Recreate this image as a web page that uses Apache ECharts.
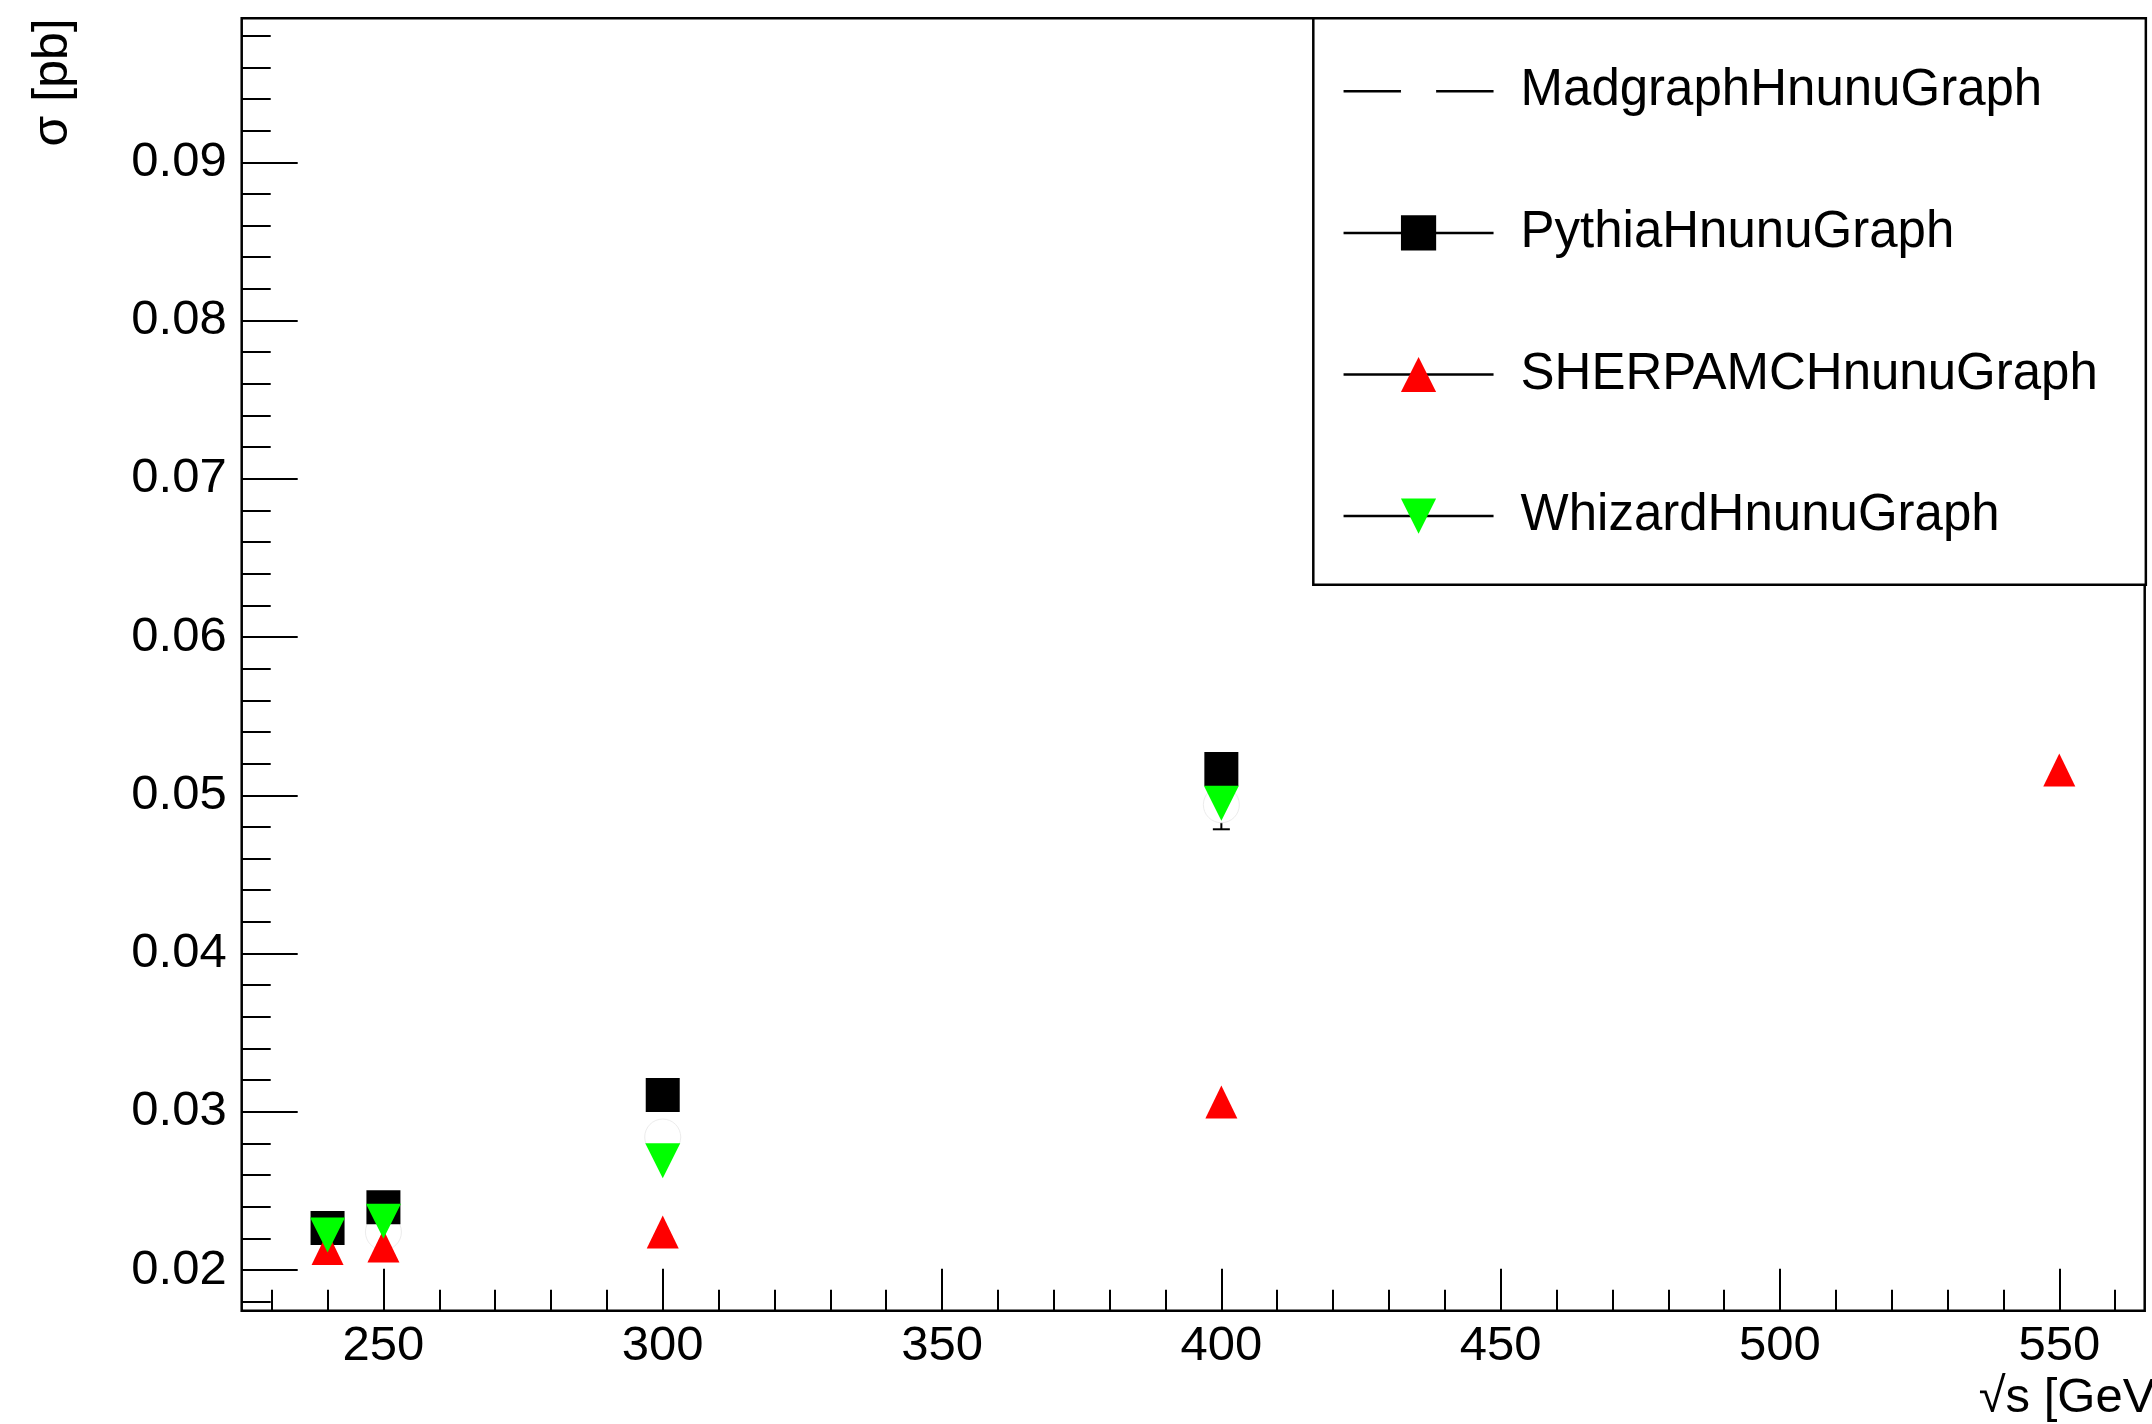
<!DOCTYPE html>
<html>
<head>
<meta charset="utf-8">
<script src="https://cdn.jsdelivr.net/npm/echarts@6/dist/echarts.min.js"></script>
<style>
html,body{margin:0;padding:0;background:#fff;}
#c{width:2152px;height:1424px;}
</style>
</head>
<body>
<div id="c"></div>
<script>
// ---- data ----
const seriesNames = ['MadgraphHnunuGraph', 'PythiaHnunuGraph', 'SHERPAMCHnunuGraph', 'WhizardHnunuGraph'];

const madgraphX = [250, 300, 400];
const madgraphY = [0.0224, 0.0284, 0.0494];

const pythiaX = [240, 250, 300, 400];
const pythiaY = [0.02265, 0.02396, 0.03106, 0.05166];
const pythiaErr = [0.0009, 0.0009, 0.0010, 0.0010];

const sherpaX = [240, 250, 300, 400, 550];
const sherpaY = [0.02135, 0.02152, 0.0224, 0.03062, 0.0516];
const sherpaErr = [0.0009, 0.0009, 0.0010, 0.0010, 0.0010];

const whizardX = [240, 250, 300, 400];
const whizardY = [0.02221, 0.02308, 0.0269, 0.04949];
const whizardErr = [0.0009, 0.0009, 0.0010, 0.00164];

const xMajorTicks = [250, 300, 350, 400, 450, 500, 550];
const xMinorTicks = [230, 240, 260, 270, 280, 290, 310, 320, 330, 340, 360, 370, 380, 390,
  410, 420, 430, 440, 460, 470, 480, 490, 510, 520, 530, 540, 560];
const yMajorTicks = [0.02, 0.03, 0.04, 0.05, 0.06, 0.07, 0.08, 0.09];
const yMinorTicks = [0.018, 0.022, 0.024, 0.026, 0.028, 0.032, 0.034, 0.036, 0.038,
  0.042, 0.044, 0.046, 0.048, 0.052, 0.054, 0.056, 0.058, 0.062, 0.064, 0.066, 0.068,
  0.072, 0.074, 0.076, 0.078, 0.082, 0.084, 0.086, 0.088, 0.092, 0.094, 0.096, 0.098];

const xTitle = '\u221As [GeV]';
const yTitle = '\u03C3 [pb]';

// ---- helpers ----
const FONT = '"Liberation Sans", Arial, Helvetica, sans-serif';
function pairs(xs, ys) { return xs.map((x, i) => [x, ys[i]]); }
function triples(xs, ys, es) { return xs.map((x, i) => [x, ys[i], es[i]]); }

function errRender(half) {
  return function (params, api) {
    const x = api.value(0), y = api.value(1), e = api.value(2);
    const c = api.coord([x, y]);
    const top = api.coord([x, y + e])[1];
    const bot = api.coord([x, y - e])[1];
    const cap = 8.5;
    const children = [];
    const st = () => ({ stroke: '#000', lineWidth: 2 });
    if (c[1] - top > half) {
      children.push({ type: 'line', shape: { x1: c[0], y1: c[1] - half, x2: c[0], y2: top }, style: st() });
      children.push({ type: 'line', shape: { x1: c[0] - cap, y1: top, x2: c[0] + cap, y2: top }, style: st() });
    }
    if (bot - c[1] > half) {
      children.push({ type: 'line', shape: { x1: c[0], y1: c[1] + half, x2: c[0], y2: bot }, style: st() });
      children.push({ type: 'line', shape: { x1: c[0] - cap, y1: bot, x2: c[0] + cap, y2: bot }, style: st() });
    }
    return { type: 'group', children: children };
  };
}

const DOWN_TRI = 'path://M0,0L2,0L1,2Z';

function markerSeries(name, xs, ys, color, symbol, size, extraItem) {
  return {
    name: name,
    type: 'line',
    xAxisIndex: 0, yAxisIndex: 0,
    data: pairs(xs, ys),
    color: color,
    symbol: symbol,
    symbolSize: size,
    showSymbol: true,
    lineStyle: { color: color, opacity: 0, width: 0 },
    itemStyle: Object.assign({ color: color, borderWidth: 0 }, extraItem || {}),
    silent: true,
    animation: false,
    emphasis: { disabled: true }
  };
}

function errSeries(xs, ys, es, half) {
  return {
    type: 'custom',
    xAxisIndex: 0, yAxisIndex: 0,
    data: triples(xs, ys, es),
    encode: { x: 0, y: 1 },
    renderItem: errRender(half),
    silent: true,
    animation: false
  };
}

const XMIN = 224.63, XMAX = 565.29;
const YMIN = 0.017427, YMAX = 0.0991;

const tickStyle = { color: '#000', width: 2 };

const option = {
  backgroundColor: '#fff',
  animation: false,
  textStyle: { fontFamily: FONT },
  grid: {
    left: 241.7, right: 7.3, top: 18.3, bottom: 113.3,
    show: true, borderColor: '#000', borderWidth: 2.5, backgroundColor: 'transparent',
    containLabel: false, outerBoundsMode: 'none'
  },
  xAxis: [
    {
      type: 'value', min: XMIN, max: XMAX, position: 'bottom', offset: 0,
      axisLine: { show: false },
      splitLine: { show: false },
      axisTick: { show: true, inside: true, length: 42, lineStyle: tickStyle, customValues: xMajorTicks },
      axisLabel: { show: true, customValues: xMajorTicks, margin: 11, fontSize: 49, fontFamily: FONT, color: '#000' }
    },
    {
      type: 'value', min: XMIN, max: XMAX, position: 'bottom', offset: 0,
      axisLine: { show: false },
      splitLine: { show: false },
      axisTick: { show: true, inside: true, length: 21, lineStyle: tickStyle, customValues: xMinorTicks },
      axisLabel: { show: false }
    }
  ],
  yAxis: [
    {
      type: 'value', min: YMIN, max: YMAX, position: 'left', offset: 0,
      axisLine: { show: false },
      splitLine: { show: false },
      axisTick: { show: true, inside: true, length: 56, lineStyle: tickStyle, customValues: yMajorTicks },
      axisLabel: { show: true, customValues: yMajorTicks, margin: 15, fontSize: 49, fontFamily: FONT, color: '#000',
        formatter: v => (Math.round(v * 100) / 100).toFixed(2) }
    },
    {
      type: 'value', min: YMIN, max: YMAX, position: 'left', offset: 0,
      axisLine: { show: false },
      splitLine: { show: false },
      axisTick: { show: true, inside: true, length: 29, lineStyle: tickStyle, customValues: yMinorTicks },
      axisLabel: { show: false }
    }
  ],
  legend: {
    data: seriesNames,
    orient: 'vertical',
    left: 1313.3, top: 18.3,
    itemWidth: 150, itemHeight: 44, itemGap: 90.6,
    padding: [47.5, 48, 43.1, 29],
    borderColor: '#000', borderWidth: 2.5, borderRadius: 0,
    backgroundColor: '#fff',
    selectedMode: false,
    textStyle: { fontSize: 51, fontFamily: FONT, color: '#000', padding: [0, 0, 0, 22] },
    lineStyle: { color: '#000', width: 2.5, opacity: 1, type: 'solid' },
    itemStyle: { opacity: 1, borderWidth: 0 }
  },
  graphic: [
    { type: 'text', x: 53, y: 18.3, rotation: Math.PI / 2, silent: true,
      style: { text: yTitle, fontSize: 50, fontFamily: FONT, fill: '#000', align: 'right', verticalAlign: 'middle' } },
    { type: 'text', x: 2169, y: 1398, silent: true,
      style: { text: xTitle, fontSize: 49, fontFamily: FONT, fill: '#000', align: 'right', verticalAlign: 'middle' } }
  ],
  series: [
    markerSeries(seriesNames[0], madgraphX, madgraphY, '#ffffff', 'circle', 36, { borderColor: '#ececec', borderWidth: 1 }),
    errSeries(pythiaX, pythiaY, pythiaErr, 17),
    markerSeries(seriesNames[1], pythiaX, pythiaY, '#000000', 'rect', 34),
    errSeries(sherpaX, sherpaY, sherpaErr, 16.5),
    markerSeries(seriesNames[2], sherpaX, sherpaY, '#ff0000', 'triangle', [32, 33]),
    errSeries(whizardX, whizardY, whizardErr, 17.5),
    markerSeries(seriesNames[3], whizardX, whizardY, '#00ff00', DOWN_TRI, [35, 35])
  ]
};

const chart = echarts.init(document.getElementById('c'), null, { renderer: 'canvas', width: 2152, height: 1424 });
chart.setOption(option);
</script>
</body>
</html>
